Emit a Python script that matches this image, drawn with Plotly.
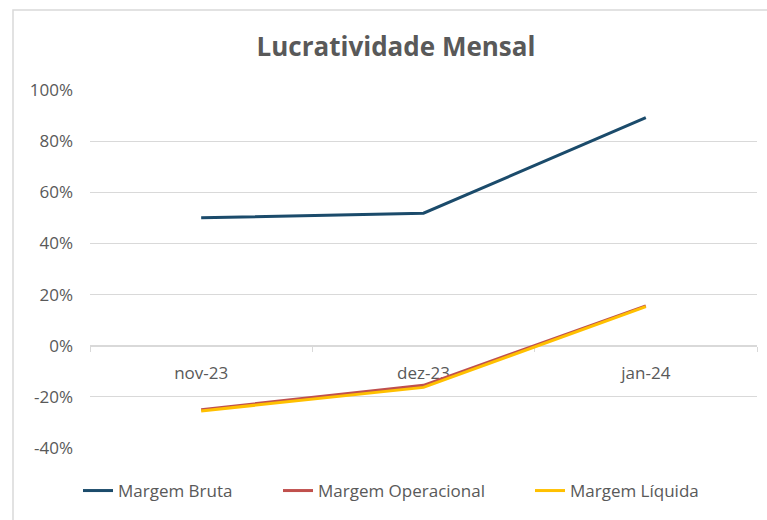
import plotly.graph_objects as go

categories = ["nov-23", "dez-23", "jan-24"]
margem_bruta = [50.0, 51.8, 89.2]
margem_operacional = [-25.0, -15.5, 15.6]
margem_liquida = [-25.5, -16.3, 15.3]
y_tickvals = [-40, -20, 0, 20, 40, 60, 80, 100]
y_ticktext = ["-40%", "-20%", "0%", "20%", "40%", "60%", "80%", "100%"]

FONT = "Open Sans"
GREY = "#595959"
GRID = "#d9d9d9"

fig = go.Figure()
fig.add_trace(go.Scatter(x=categories, y=margem_bruta, mode="lines", name="Margem Bruta",
                         line=dict(color="#1B4B6B", width=3), legend="legend", showlegend=True))
fig.add_trace(go.Scatter(x=categories, y=margem_operacional, mode="lines", name="Margem Operacional",
                         line=dict(color="#C0504D", width=3), legend="legend2", showlegend=True))
fig.add_trace(go.Scatter(x=categories, y=margem_liquida, mode="lines", name="Margem Líquida",
                         line=dict(color="#FFC000", width=3), legend="legend3", showlegend=True))

leg_common = dict(orientation="h", xref="container", yref="container",
                  yanchor="middle", y=1 - 491/520, xanchor="left",
                  font=dict(family=FONT, size=17, color=GREY), bgcolor="rgba(0,0,0,0)")

fig.update_layout(
    width=767, height=520,
    showlegend=True,
    margin=dict(l=90, r=10, t=90, b=72, autoexpand=False),
    paper_bgcolor="white", plot_bgcolor="white",
    font=dict(family=FONT, color=GREY),
    title=dict(text="<b>Lucratividade Mensal</b>", x=396/767, xanchor="center",
               y=1 - 47/520, yanchor="middle",
               font=dict(family=FONT, size=26, color=GREY)),
    legend=dict(x=78/767, **leg_common),
    legend2=dict(x=278/767, **leg_common),
    legend3=dict(x=530/767, **leg_common),
    xaxis=dict(type="category", anchor="free", position=40/140, showgrid=False,
               showline=True, linecolor=GRID, linewidth=1,
               ticks="outside", tickson="boundaries", ticklen=5, tickcolor=GRID,
               tickfont=dict(family=FONT, size=17, color=GREY),
               ticklabelstandoff=12, layer="below traces", zeroline=False,
               automargin=False, range=[-0.5, 2.5]),
    yaxis=dict(range=[-40, 100], tickvals=y_tickvals, ticktext=y_ticktext,
               showgrid=True, gridcolor=GRID, gridwidth=1, zeroline=False,
               showline=False, ticks="", ticklabelstandoff=16, automargin=False,
               tickfont=dict(family=FONT, size=17, color=GREY)),
    shapes=[dict(type="rect", xref="paper", yref="paper",
                 x0=(13-90)/667, x1=1.1, y0=-0.3, y1=1 + (90-10)/358,
                 line=dict(color=GRID, width=1.5), fillcolor="rgba(0,0,0,0)", layer="below")],
)

fig.write_html("out.html", config={"displayModeBar": False},
               post_script="document.body.style.margin='0';document.body.style.overflow='hidden';")
